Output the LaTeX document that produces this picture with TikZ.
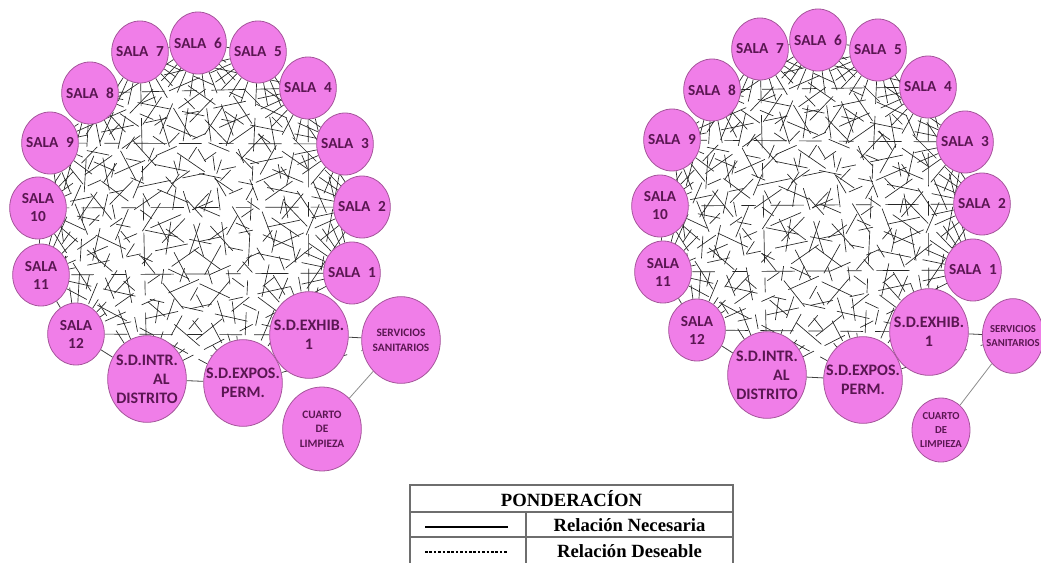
\documentclass[tikz,border=0pt]{standalone}
\usepackage{fontspec}
\setmainfont{Liberation Serif}
\newfontfamily\calib{Carlito}
\usetikzlibrary{shapes.geometric,backgrounds}
\definecolor{salapink}{RGB}{240,126,232}
\definecolor{salaedge}{RGB}{165,85,155}
\definecolor{salatext}{RGB}{90,22,82}
\definecolor{tabline}{RGB}{110,110,110}
\begin{document}
\begin{tikzpicture}[x=0.75pt,y=-0.75pt,
  room/.style={ellipse, fill=salapink, draw=salaedge, line width=0.6pt,
    inner sep=-30pt, minimum width=42.5pt, minimum height=46.5pt,
    font=\calib\bfseries\fontsize{11.5}{13.5}\selectfont, text=salatext, align=center},
  big/.style={room, minimum width=59pt, minimum height=65pt,
    font=\calib\bfseries\fontsize{12}{14.3}\selectfont},
  small/.style={room, font=\calib\bfseries\fontsize{8.5}{11}\selectfont},
  mesh/.style={draw=black!85, line width=0.5pt,
    dash pattern=on 17pt off 9pt on 25pt off 11pt on 11pt off 13pt},
  link/.style={draw=black!75, line width=0.6pt},
  thinlink/.style={draw=black!45, line width=0.6pt},
  tab/.style={draw=tabline, line width=0.8pt},
  tabtext/.style={font=\bfseries\fontsize{14}{16}\selectfont}]
\useasboundingbox (0,0) rectangle (1041,563);

% ---------- left network ----------
\node[room] (L1) at (352,273) {SALA\enspace1};
\node[room] (L2) at (362,207) {SALA\enspace2};
\node[room] (L3) at (345,144) {SALA\enspace3};
\node[room] (L4) at (308,88) {SALA\enspace4};
\node[room] (L5) at (258,52) {SALA\enspace5};
\node[room] (L6) at (198,43) {SALA\enspace6};
\node[room] (L7) at (140,52) {SALA\enspace7};
\node[room] (L8) at (90,93) {SALA\enspace8};
\node[room] (L9) at (50,143) {SALA\enspace9};
\node[room] (L10) at (38,208) {SALA\\10};
\node[room] (L11) at (41,275) {SALA\\11};
\node[room] (L12) at (76,334) {SALA\\12};
\node[big] (L13) at (147,379) {S.D.INTR.\\\hspace*{1.8em}AL\\DISTRITO};
\node[big] (L14) at (243,383) {S.D.EXPOS.\\PERM.};
\node[big] (L15) at (309,335) {S.D.EXHIB.\\1};
\node[small, minimum width=59pt, minimum height=65pt] (LS) at (401,340) {SERVICIOS\\SANITARIOS};
\node[small, minimum width=59pt, minimum height=63pt] (LC) at (322,429) {CUARTO\\DE\\LIMPIEZA};

% ---------- right network ----------
\node[room] (R1) at (973,270) {SALA\enspace1};
\node[room] (R2) at (982,204) {SALA\enspace2};
\node[room] (R3) at (965,142) {SALA\enspace3};
\node[room] (R4) at (928,87) {SALA\enspace4};
\node[room] (R5) at (878,50) {SALA\enspace5};
\node[room] (R6) at (818,40) {SALA\enspace6};
\node[room] (R7) at (760,49) {SALA\enspace7};
\node[room] (R8) at (712,90) {SALA\enspace8};
\node[room] (R9) at (672,140) {SALA\enspace9};
\node[room] (R10) at (660,206) {SALA\\10};
\node[room] (R11) at (663,272) {SALA\\11};
\node[room] (R12) at (697,330) {SALA\\12};
\node[big] (R13) at (767,375) {S.D.INTR.\\\hspace*{1.8em}AL\\DISTRITO};
\node[big] (R14) at (863,380) {S.D.EXPOS.\\PERM.};
\node[big] (R15) at (929,332) {S.D.EXHIB.\\1};
\node[small, minimum width=46pt, minimum height=56pt, font=\calib\bfseries\fontsize{8}{10.5}\selectfont] (RS) at (1013,336) {SERVICIOS\\SANITARIOS};
\node[small, minimum width=43.5pt, minimum height=48pt, font=\calib\bfseries\fontsize{8}{10.5}\selectfont] (RC) at (941,430) {CUARTO\\DE\\LIMPIEZA};

% ---------- connectors ----------
\begin{scope}[on background layer]
\foreach \p in {L,R} {
  \foreach \i in {1,...,12} {
    \pgfmathtruncatemacro\nxt{\i+3}
    \foreach \j in {\nxt,...,15} {
      \pgfmathtruncatemacro\dd{\j-\i}
      \ifnum\dd<13
        \draw[mesh] (\p\i) -- (\p\j);
      \fi
    }
  }
  \draw[link] (\p5) -- (\p6);
  \draw[link] (\p6) -- (\p7);
  \draw[link] (\p10) -- (\p11);
  \draw[link] (\p11) -- (\p12);
  \draw[link] (\p12) -- (\p13);
  \draw[link] (\p13) -- (\p14);
  \draw[link] (\p15) -- (\p S);
  \draw[mesh] (\p14) -- (\p S);
  \draw[thinlink] (\p S) -- (\p C);
}
\end{scope}

% ---------- legend table ----------
\draw[tab] (410,563) -- (410,485) -- (733,485) -- (733,563);
\draw[tab] (410,512) -- (733,512);
\draw[tab] (410,537) -- (733,537);
\draw[tab] (526,512) -- (526,563);
\node[tabtext] (hdr) at (571.5,499) {PONDERACÍON};
\node[tabtext] (nec) at (629.5,525) {Relación Necesaria};
\node[tabtext] (des) at (629.5,551) {Relación Deseable};
\coordinate (solA) at (425,527);
\coordinate (solB) at (508,527);
\coordinate (dasA) at (425,552);
\coordinate (dasB) at (508,552);
\draw[line width=0.9pt] (solA) -- (solB);
\draw[line width=0.8pt, dash pattern=on 2pt off 1.3pt] (dasA) -- (dasB);
\end{tikzpicture}
\end{document}
